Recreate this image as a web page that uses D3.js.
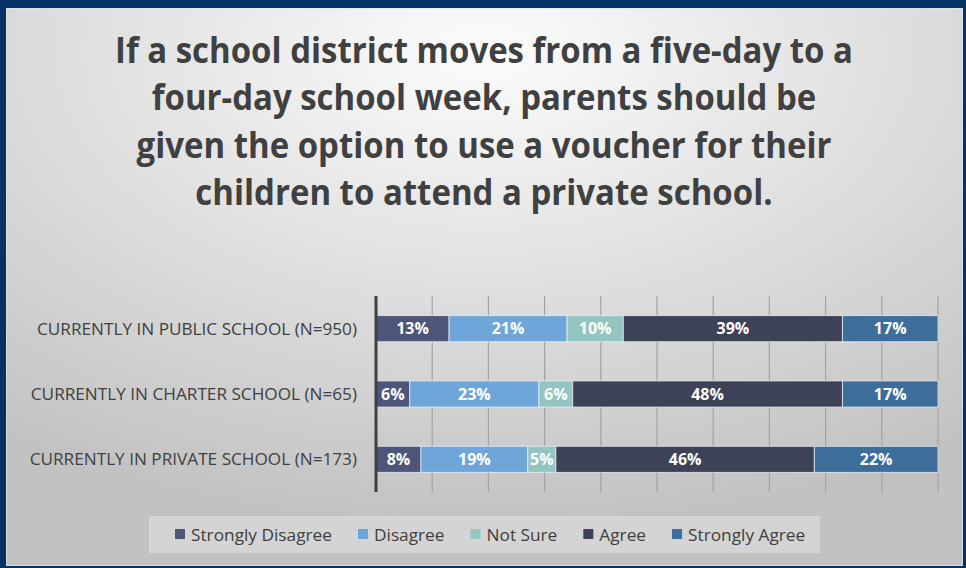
<!DOCTYPE html>
<html>
<head>
<meta charset="utf-8">
<script src="https://cdn.jsdelivr.net/npm/d3@7"></script>
<style>
  html, body { margin: 0; padding: 0; background: #053366; }
  svg { display: block; }
</style>
</head>
<body>
<svg id="chart" width="966" height="568"></svg>
<script>
// ---------- DATA ----------
const titleLines = [
  "If a school district moves from a five-day to a",
  "four-day school week, parents should be",
  "given the option to use a voucher for their",
  "children to attend a private school."
];
const categories = [
  "CURRENTLY IN PUBLIC SCHOOL (N=950)",
  "CURRENTLY IN CHARTER SCHOOL (N=65)",
  "CURRENTLY IN PRIVATE SCHOOL (N=173)"
];
const seriesNames = ["Strongly Disagree", "Disagree", "Not Sure", "Agree", "Strongly Agree"];
const stronglyDisagree = [13, 6, 8];
const disagree        = [21, 23, 19];
const notSure         = [10, 6, 5];
const agree           = [39, 48, 46];
const stronglyAgree   = [17, 17, 22];
const xTickValues     = [0, 10, 20, 30, 40, 50, 60, 70, 80, 90, 100];
const seriesColors    = ["#4d5679", "#6fa6d9", "#94c5c1", "#3e4257", "#3c6d9b"];

// ---------- BUILD TABLE ----------
const seriesValues = [stronglyDisagree, disagree, notSure, agree, stronglyAgree];
const table = categories.map((c, i) => {
  const row = { category: c };
  seriesNames.forEach((s, j) => row[s] = seriesValues[j][i]);
  return row;
});
const stacked = d3.stack().keys(seriesNames)(table);

// ---------- SVG ----------
const W = 966, H = 568;
const svg = d3.select("#chart");
const defs = svg.append("defs");
const grad = defs.append("radialGradient").attr("id", "bg")
  .attr("cx", "50%").attr("cy", "8%").attr("r", "85%")
  .attr("fx", "50%").attr("fy", "8%");
grad.append("stop").attr("offset", "0%").attr("stop-color", "#fcfcfc");
grad.append("stop").attr("offset", "45%").attr("stop-color", "#e2e2e2");
grad.append("stop").attr("offset", "100%").attr("stop-color", "#c2c2c2");

svg.append("rect").attr("width", W).attr("height", H).attr("fill", "#053366");
svg.append("rect").attr("x", 6).attr("y", 8).attr("width", 957).attr("height", 558)
  .attr("fill", "url(#bg)");
svg.append("rect").attr("x", 6.5).attr("y", 8.5).attr("width", 956).attr("height", 557)
  .attr("fill", "none").attr("stroke", "#e6e6e6").attr("stroke-width", 1).attr("opacity", 0.7);

// helper to condense text to width ratio similar to Calibri
function condense(sel, ratio) {
  sel.each(function() {
    const w = this.getComputedTextLength();
    d3.select(this).attr("textLength", w * ratio).attr("lengthAdjust", "spacingAndGlyphs");
  });
}

// ---------- TITLE ----------
const titleG = svg.append("g");
const titleTexts = titleG.selectAll("text").data(titleLines).join("text")
  .attr("x", 484)
  .attr("y", (d, i) => 63 + i * 47.3)
  .attr("text-anchor", "middle")
  .attr("font-family", "'Open Sans', sans-serif")
  .attr("font-weight", 700)
  .attr("font-size", 35)
  .attr("fill", "#404040")
  .text(d => d);
{
  const w0 = titleTexts.nodes()[0].getComputedTextLength();
  condense(titleTexts, 738 / w0);
}

// ---------- SCALES ----------
const x = d3.scaleLinear().domain([0, 100]).range([376, 938]);
const y = d3.scaleBand().domain(categories).range([296, 492])
  .paddingInner(0.6).paddingOuter(0.3);

// grid lines
svg.append("g").selectAll("line").data(xTickValues.slice(1)).join("line")
  .attr("x1", d => x(d)).attr("x2", d => x(d))
  .attr("y1", 296).attr("y2", 492)
  .attr("stroke", "#a3a3a3").attr("stroke-width", 1.2);

// bars
const barG = svg.append("g");
stacked.forEach((layer, j) => {
  barG.append("g").selectAll("rect").data(layer).join("rect")
    .attr("x", d => x(d[0]))
    .attr("y", d => y(d.data.category))
    .attr("width", d => x(d[1]) - x(d[0]))
    .attr("height", y.bandwidth())
    .attr("fill", seriesColors[j])
    .attr("stroke", "#e8eef4").attr("stroke-width", 1).attr("stroke-opacity", 0.8);
});

// bar labels
const lblG = svg.append("g");
stacked.forEach((layer, j) => {
  lblG.append("g").selectAll("text").data(layer).join("text")
    .attr("x", d => (x(d[0]) + x(d[1])) / 2)
    .attr("y", d => y(d.data.category) + y.bandwidth() / 2)
    .attr("dy", "0.36em")
    .attr("text-anchor", "middle")
    .attr("font-family", "'Open Sans', sans-serif")
    .attr("font-weight", 700)
    .attr("font-size", 16)
    .attr("fill", "#ffffff")
    .text(d => (d[1] - d[0]) + "%");
});

// y axis line
svg.append("line")
  .attr("x1", x(0)).attr("x2", x(0))
  .attr("y1", 296).attr("y2", 492)
  .attr("stroke", "#404040").attr("stroke-width", 3);

// y axis labels
const yLabels = svg.append("g").selectAll("text").data(categories).join("text")
  .attr("x", 357)
  .attr("y", d => y(d) + y.bandwidth() / 2)
  .attr("dy", "0.36em")
  .attr("text-anchor", "end")
  .attr("font-family", "'Open Sans', sans-serif")
  .attr("font-size", 16.5)
  .attr("fill", "#404040")
  .text(d => d);
{
  const w0 = yLabels.nodes()[0].getComputedTextLength();
  condense(yLabels, 320 / w0);
}

// ---------- LEGEND ----------
svg.append("rect").attr("x", 149).attr("y", 516).attr("width", 671).attr("height", 37)
  .attr("fill", "#ffffff").attr("opacity", 0.3);
const legG = svg.append("g");
const legItems = legG.selectAll("g").data(seriesNames).join("g");
legItems.append("rect")
  .attr("width", 10).attr("height", 10)
  .attr("y", 529)
  .attr("fill", (d, i) => seriesColors[i]);
const legTexts = legItems.append("text")
  .attr("x", 15).attr("y", 534.5).attr("dy", "0.36em")
  .attr("font-family", "'Open Sans', sans-serif")
  .attr("font-size", 17)
  .attr("fill", "#404040")
  .text(d => d);
{
  const w0 = legTexts.nodes()[0].getComputedTextLength();
  condense(legTexts, 141 / w0);
  let cx = 175;
  legItems.each(function(d, i) {
    const t = d3.select(this).select("text");
    d3.select(this).select("rect").attr("x", cx);
    t.attr("x", cx + 16);
    const tw = +t.attr("textLength");
    cx = cx + 16 + tw + 26;
  });
}
</script>
</body>
</html>
